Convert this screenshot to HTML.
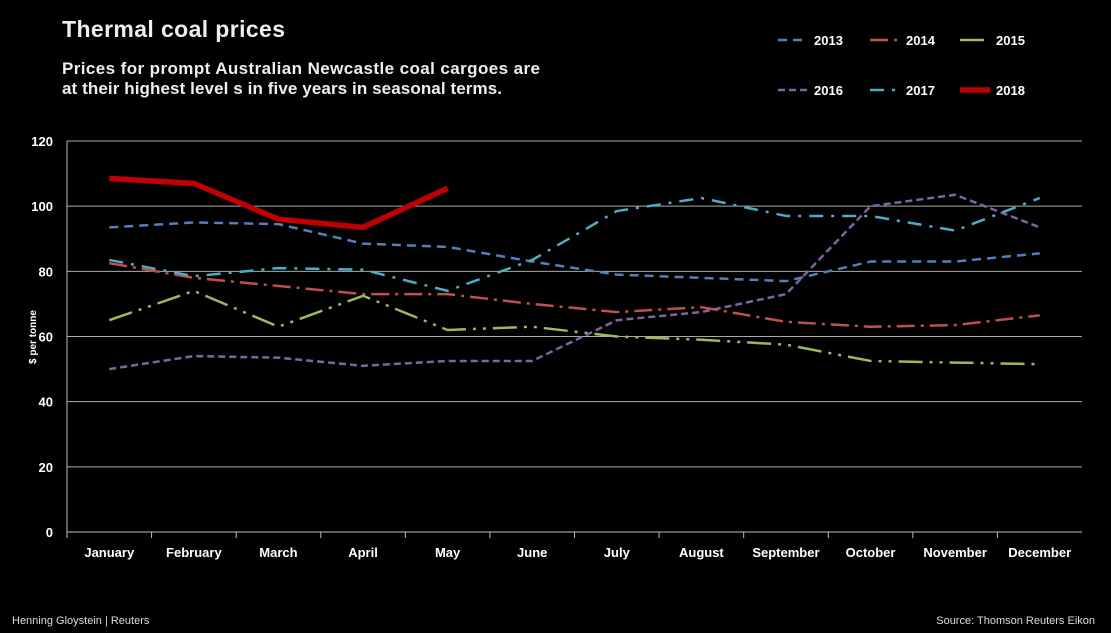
<!DOCTYPE html>
<html><head><meta charset="utf-8"><style>
body{margin:0;background:#000;width:1111px;height:633px;overflow:hidden;font-family:"Liberation Sans",sans-serif;color:#fff}
svg{position:absolute;left:0;top:0}
</style></head><body>
<svg id="c" width="1111" height="633">
<text x="62" y="37" font-size="23" font-weight="bold" fill="#eee" textLength="223">Thermal coal prices</text>
<text x="62" y="74" font-size="17" font-weight="bold" fill="#eee" textLength="478" lengthAdjust="spacing">Prices for prompt Australian Newcastle coal cargoes are</text>
<text x="62" y="94" font-size="17" font-weight="bold" fill="#eee" textLength="440" lengthAdjust="spacing">at their  highest level s in five years in seasonal terms.</text>
<text x="0" y="0" font-size="10" font-weight="bold" fill="#fff" transform="translate(36,337) rotate(-90)" text-anchor="middle">$ per tonne</text>
<text x="12" y="624" font-size="11" fill="#ddd">Henning Gloystein  | Reuters</text>
<text x="1095" y="624" font-size="11" fill="#ddd" text-anchor="end">Source: Thomson Reuters Eikon</text>
<g id="grid"></g><g id="series"></g><g id="legend"></g>
</svg>
<script>
const months=["January","February","March","April","May","June","July","August","September","October","November","December"];
const yTicks=[0,20,40,60,80,100,120];
const years=["2013","2014","2015","2016","2017","2018"];
const v2013=[93.5,95,94.5,88.5,87.5,83,79,78,77,83,83,85.5];
const v2014=[82.5,78,75.5,73,73,70,67.5,69,64.5,63,63.5,66.5];
const v2015=[65,74,63,72.5,62,63,60,59,57.5,52.5,52,51.5];
const v2016=[50,54,53.5,51,52.5,52.5,65,67.5,73,100,103.5,93.5];
const v2017=[83.5,78.5,81,80.5,74,83.5,98.5,102.5,97,97,92.5,102.5];
const v2018=[108.5,107,96,93.5,105.5];
const NS="http://www.w3.org/2000/svg";
const L=67,R=1082,T=141,B=532;
const x=i=>L+(R-L)/12*(i+0.5);
const y=v=>B-(B-T)*v/120;
function mk(t,a,p){const e=document.createElementNS(NS,t);for(const k in a)e.setAttribute(k,a[k]);p.appendChild(e);return e;}
const g=document.getElementById('grid');
yTicks.forEach(t=>{
 const ln=mk('line',{x1:L,x2:R,y1:y(t),y2:y(t),stroke:t===0?'#bbb':'#aaa','stroke-width':1},g);
 
 
 const tx=mk('text',{x:L-14,y:y(t)+5,'text-anchor':'end','font-size':13,'font-weight':'bold',fill:'#fff'},g);
 tx.textContent=t;
 
 
});
const ax=mk('line',{x1:L,x2:L,y1:T,y2:B,stroke:'#bbb'},g);


months.forEach((m,i)=>{
 const tk=mk('line',{x1:L+(R-L)/12*i,x2:L+(R-L)/12*i,y1:B,y2:B+6,stroke:'#bbb'},g);
 
 
 const tx=mk('text',{x:x(i),y:557,'text-anchor':'middle','font-size':13,'font-weight':'bold',fill:'#fff'},g);
 tx.textContent=m;
 
 
});
const styles=[
 {c:'#4f81bd',w:2.5,d:'9,6'},
 {c:'#c0504d',w:2.5,d:'18,6,3,6'},
 {c:'#9bbb59',w:2.5,d:'24,7,3,7,3,7'},
 {c:'#8064a2',w:2.5,d:'7,4'},
 {c:'#4bacc6',w:2.5,d:'14,8,3,8'},
 {c:'#c00000',w:5.5,d:''}];
const data=[v2013,v2014,v2015,v2016,v2017,v2018];
const sg=document.getElementById('series');
data.forEach((arr,s)=>{
 const st=styles[s];
 const p=mk('polyline',{points:arr.map((v,i)=>x(i)+','+y(v)).join(' '),fill:'none',stroke:st.c,'stroke-width':st.w,'stroke-dasharray':st.d,'stroke-linejoin':'round'},sg);
 
 
});
const lg=document.getElementById('legend');
const lpos=[[778,40],[870,40],[960,40],[778,90],[870,90],[960,90]];
years.forEach((yr,s)=>{
 const st=styles[s];const [lx,ly]=lpos[s];
 const ln=mk('line',{x1:lx,x2:lx+30,y1:ly,y2:ly,stroke:st.c,'stroke-width':s===5?5.5:2.5,'stroke-dasharray':st.d},lg);
 
 
 const tx=mk('text',{x:lx+36,y:ly+5,'font-size':13,'font-weight':'bold',fill:'#fff'},lg);
 tx.textContent=yr;
 
 
});
</script>
</body></html>
